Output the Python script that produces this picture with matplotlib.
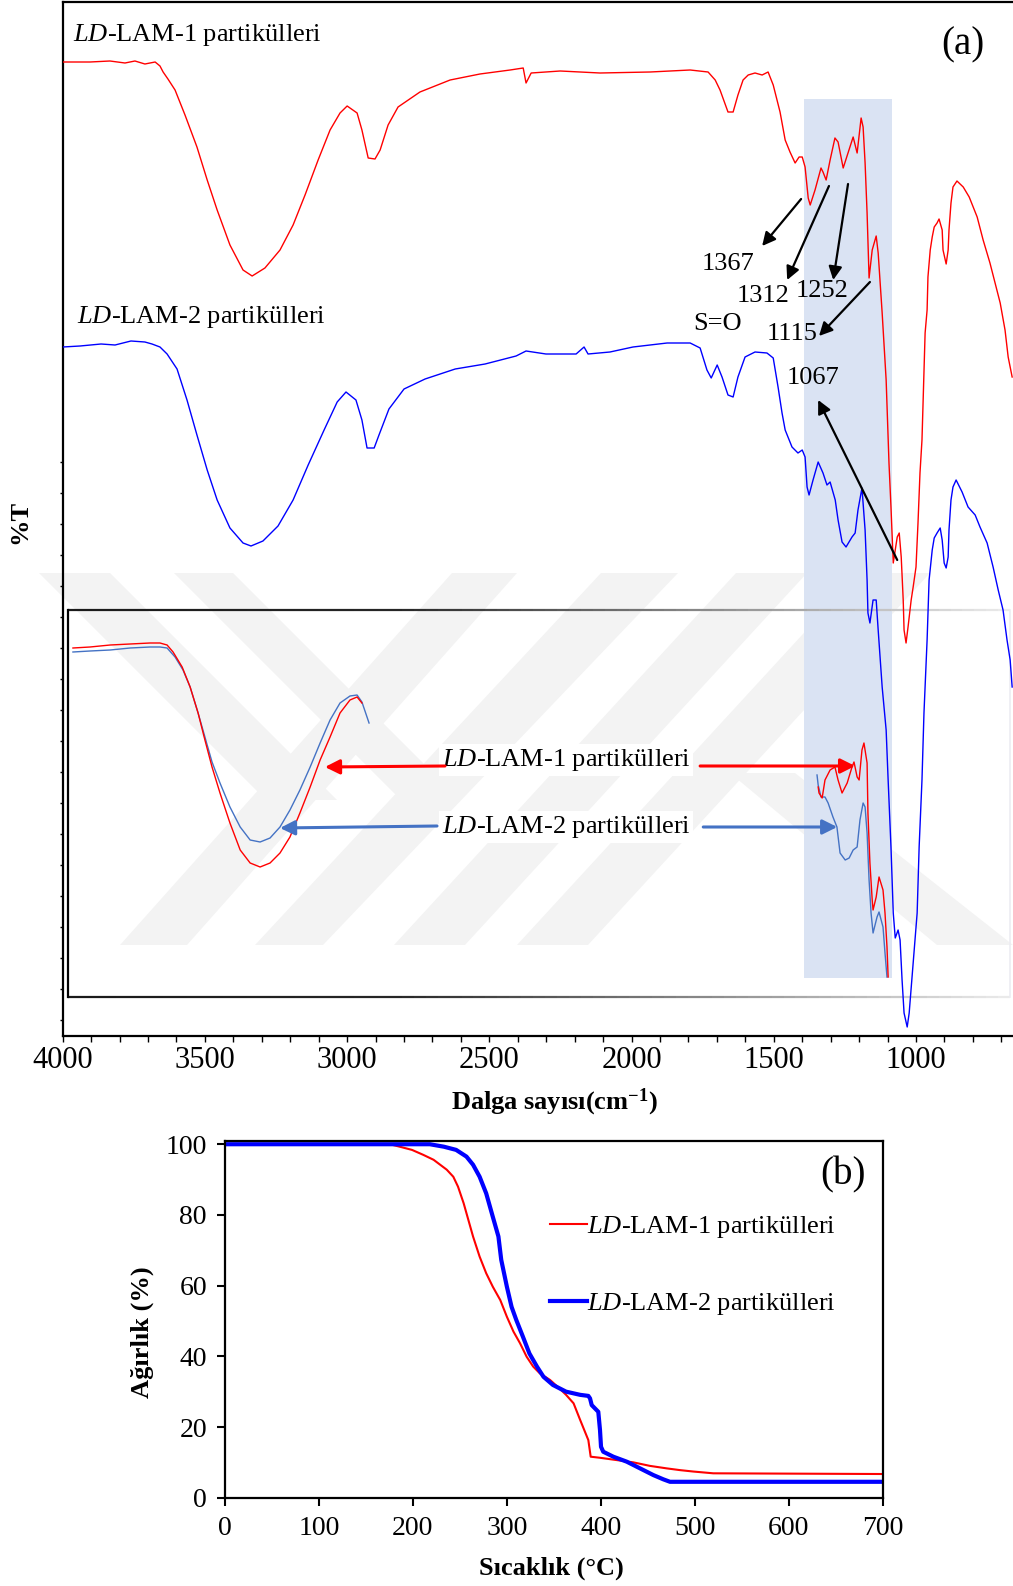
import matplotlib
matplotlib.use("Agg")
import matplotlib.pyplot as plt
import numpy as np
from matplotlib.patches import Polygon, Rectangle

plt.rcParams["font.family"] = ["Liberation Serif", "DejaVu Serif"]
plt.rcParams["mathtext.fontset"] = "custom"
plt.rcParams["mathtext.rm"] = "Liberation Serif"
plt.rcParams["mathtext.it"] = "Liberation Serif:italic"
plt.rcParams["mathtext.bf"] = "Liberation Serif:bold"

# --- (a) FTIR spektrumlari: dalga sayisi (cm-1) ve %T (keyfi birim) ---
lam1_wn = [4000, 3904, 3834, 3781, 3746, 3711, 3675, 3658, 3647, 3630, 3605, 3570, 3528,
           3492, 3457, 3412, 3366, 3334, 3289, 3236, 3190, 3148, 3102, 3060, 3025, 3000,
           2965, 2948, 2926, 2902, 2884, 2856, 2821, 2744, 2638, 2533, 2427, 2381, 2371,
           2353, 2304, 2251, 2111, 1935, 1794, 1731, 1706, 1689, 1661, 1643, 1626, 1608,
           1590, 1566, 1541, 1520, 1502, 1478, 1460, 1443, 1425, 1411, 1400, 1390, 1379,
           1372, 1355, 1334, 1327, 1316, 1302, 1285, 1274, 1256, 1239, 1221, 1214, 1207,
           1193, 1186, 1179, 1172, 1165, 1154, 1140, 1133, 1119, 1105, 1095, 1088, 1080,
           1066, 1059, 1052, 1045, 1042, 1035, 1028, 1017, 1010, 1000, 993, 986, 979, 975,
           968, 961, 958, 950, 943, 936, 926, 919, 908, 905, 894, 887, 884, 877, 870, 856,
           834, 813, 785, 764, 740, 722, 704, 687, 676, 662]
lam1_t = [97.4, 97.4, 97.5, 97.3, 97.5, 97.2, 97.4, 97.0, 96.4, 95.7, 94.6, 92.1, 88.9,
          85.6, 82.6, 79.1, 76.6, 76.0, 76.8, 78.6, 81.1, 84.1, 87.6, 90.6, 92.3, 93.0,
          92.3, 90.6, 87.8, 87.7, 88.6, 91.1, 92.9, 94.4, 95.6, 96.2, 96.6, 96.8, 95.3,
          96.3, 96.4, 96.5, 96.3, 96.4, 96.6, 96.4, 95.6, 94.6, 92.4, 92.4, 94.1, 95.6,
          96.1, 96.3, 96.1, 96.4, 95.1, 92.4, 89.6, 88.4, 87.3, 87.9, 87.9, 86.9, 83.8,
          83.1, 84.6, 86.8, 86.4, 85.6, 87.6, 89.8, 89.4, 86.8, 88.3, 89.9, 89.1, 88.3,
          91.8, 90.9, 87.3, 82.3, 75.8, 78.6, 80.0, 78.3, 72.3, 65.6, 57.3, 52.9, 47.3,
          49.9, 50.3, 47.9, 43.6, 40.6, 39.3, 40.9, 43.6, 44.9, 46.9, 51.3, 56.3, 59.6, 63.6,
          70.3, 72.6, 75.9, 78.6, 79.9, 80.9, 81.3, 81.7, 80.6, 78.6, 77.2, 78.6, 80.6, 83.3,
          84.9, 85.5, 84.9, 83.9, 81.9, 79.6, 77.3, 75.3, 73.3, 70.6, 67.9, 65.9]

lam2_wn = [4000, 3939, 3865, 3816, 3760, 3711, 3686, 3658, 3633, 3598, 3563, 3528, 3492,
           3457, 3412, 3366, 3338, 3296, 3243, 3190, 3137, 3081, 3035, 3004, 2969, 2948,
           2930, 2905, 2888, 2853, 2800, 2726, 2620, 2515, 2406, 2371, 2301, 2195, 2167,
           2153, 2076, 1995, 1875, 1794, 1759, 1735, 1720, 1699, 1682, 1661, 1643, 1626,
           1601, 1566, 1524, 1502, 1485, 1471, 1460, 1436, 1415, 1400, 1390, 1383, 1376,
           1362, 1344, 1327, 1313, 1302, 1284, 1274, 1260, 1246, 1225, 1214, 1204, 1190,
           1179, 1172, 1169, 1162, 1151, 1140, 1133, 1119, 1105, 1098, 1088, 1080, 1073,
           1063, 1056, 1049, 1042, 1031, 1024, 1010, 996, 989, 979, 972, 961, 954, 943, 936,
           926, 915, 908, 901, 894, 887, 884, 877, 870, 859, 838, 817, 792, 775, 750, 729,
           711, 694, 680, 669, 662]
lam2_t = [68.9, 69.0, 69.2, 69.1, 69.5, 69.4, 69.2, 68.9, 68.2, 66.7, 63.6, 60.1, 56.6,
          53.6, 50.8, 49.3, 49.0, 49.5, 51.0, 53.6, 57.1, 60.6, 63.4, 64.4, 63.6, 61.6,
          58.8, 58.8, 60.1, 62.7, 64.7, 65.7, 66.7, 67.2, 68.0, 68.5, 68.2, 68.2, 68.9,
          68.2, 68.4, 68.9, 69.3, 69.3, 68.8, 66.6, 65.8, 67.1, 65.9, 64.1, 63.9, 65.9,
          67.9, 68.4, 68.3, 67.8, 64.9, 62.3, 60.6, 58.9, 58.3, 58.6, 57.9, 54.9, 54.1,
          55.6, 57.4, 56.3, 55.1, 55.4, 53.6, 51.6, 49.4, 48.9, 49.9, 50.3, 52.6, 54.8,
          50.6, 45.6, 42.3, 41.3, 43.6, 43.6, 40.6, 34.9, 30.6, 25.6, 18.9, 12.3, 9.8,
          10.6, 9.6, 5.6, 2.3, 0.9, 2.3, 7.3, 12.3, 18.9, 25.6, 32.3, 39.6, 45.6, 48.6, 49.8,
          50.3, 50.8, 49.6, 47.3, 46.8, 47.9, 50.6, 53.6, 54.9, 55.6, 54.4, 52.9, 52.1, 50.9,
          49.3, 46.9, 44.6, 42.6, 39.6, 37.6, 34.9]

# buyutulmus bolge (kutu icindeki egriler)
ins_oh_wn = [3964, 3904, 3833, 3763, 3693, 3658, 3633, 3612, 3580, 3552, 3524, 3500, 3475,
             3447, 3412, 3376, 3341, 3306, 3271, 3236, 3201, 3166, 3130, 3095, 3060, 3025,
             2990, 2965, 2948]
ins1_oh_t = [38.8, 38.9, 39.1, 39.2, 39.3, 39.3, 39.1, 38.4, 36.9, 34.9, 32.3, 29.6, 26.9,
             24.3, 21.3, 18.6, 17.3, 16.9, 17.3, 18.3, 19.9, 22.3, 24.9, 27.6, 29.9, 32.3,
             33.6, 33.9, 33.3]
ins2_oh_wn = [3964, 3904, 3833, 3763, 3693, 3658, 3633, 3605, 3577, 3552, 3524, 3500, 3475,
              3447, 3412, 3376, 3341, 3306, 3271, 3236, 3201, 3166, 3130, 3095, 3060, 3025,
              2990, 2965, 2948, 2923]
ins2_oh_t = [38.4, 38.5, 38.6, 38.8, 38.9, 38.9, 38.8, 37.9, 36.6, 34.9, 32.3, 29.9, 27.4,
             25.3, 22.9, 20.9, 19.6, 19.4, 19.8, 20.9, 22.6, 24.6, 26.9, 29.3, 31.6, 33.3,
             34.0, 34.1, 33.4, 31.3]
ins1_fp_wn = [1344, 1341, 1330, 1320, 1302, 1285, 1274, 1260, 1242, 1225, 1218, 1207, 1200,
              1190, 1183, 1172, 1169, 1162, 1154, 1151, 1140, 1130, 1116, 1109, 1102, 1098]
ins1_fp_t = [24.9, 24.3, 23.8, 25.6, 26.6, 26.9, 25.6, 24.3, 25.3, 26.9, 27.4, 25.9, 25.6,
             28.6, 29.3, 27.3, 22.3, 17.3, 13.6, 12.6, 13.9, 15.9, 14.6, 12.3, 8.9, 5.9]
ins2_fp_wn = [1348, 1344, 1334, 1320, 1309, 1292, 1278, 1267, 1249, 1235, 1221, 1207, 1197,
              1186, 1179, 1172, 1165, 1158, 1151, 1137, 1130, 1116, 1109, 1102]
ins2_fp_t = [26.1, 25.1, 23.9, 23.9, 23.3, 21.9, 20.9, 18.3, 17.6, 17.8, 18.6, 18.9, 21.6,
             23.3, 22.9, 20.3, 15.6, 12.3, 10.3, 11.9, 12.4, 10.9, 8.3, 5.9]

# pik etiketleri: (metin, metin konumu, ok ucu, ok baslangici)
peak_labels = ["1367", "1312", "1252", "1115", "1067"]
peak_text_wn = [1660, 1538, 1330, 1436, 1362]
peak_text_t = [77.2, 74.0, 74.5, 70.2, 65.8]
peak_tail_wn = [1404, 1306, 1239, 1162, 1066]
peak_tail_t = [83.7, 85.0, 85.2, 75.4, 47.6]
peak_head_wn = [1541, 1453, 1291, 1341, 1344]
peak_head_t = [79.0, 75.6, 75.6, 70.0, 63.6]
band_region = (1393, 1084)  # vurgulanan S=O bolgesi

# --- (b) TGA ---
tga1_temp = [0, 175.5, 186, 199, 211, 222, 236, 243, 248, 254, 259, 264, 271, 278, 285, 293,
             300, 307, 314, 321, 328, 335, 346, 356, 363, 371, 378, 386.7, 389.2, 399, 409.8,
             434.6, 452.3, 470, 484.3, 498.5, 519.7, 700]
tga1_w = [100, 100, 99.3, 98.4, 97, 95.6, 92.8, 90.8, 88, 83.3, 78.6, 73.9, 68.2, 63.5, 59.7,
          55.9, 51.2, 47, 43.7, 39.9, 37.1, 35.2, 33.3, 30.9, 29.1, 26.7, 22, 16.3, 11.6, 11.3,
          10.9, 10, 9, 8.3, 7.8, 7.4, 6.9, 6.7]
tga2_temp = [0, 218, 233, 246, 257, 264, 271, 278, 285, 291, 294, 300, 305, 310, 317, 324,
             332, 339, 349, 363, 378, 386.7, 388.5, 390.3, 397.3, 399.1, 400.2, 402.6, 413.3,
             427.5, 441.7, 455.9, 466.5, 473.6, 700]
tga2_w = [100, 100, 99.3, 98.4, 96.5, 94.2, 90.8, 86.1, 79.5, 73.9, 67.3, 59.7, 54, 50.3,
          45.6, 40.8, 37.1, 34.2, 31.9, 30, 29.1, 28.8, 28.1, 26.2, 24.3, 19.2, 14.4, 13, 11.6,
          10.2, 8.3, 6.4, 5.2, 4.5, 4.5]

lab1 = r"$\mathit{LD}$-LAM-1 partikülleri"
lab2 = r"$\mathit{LD}$-LAM-2 partikülleri"

W, H = 1013, 1586
fig = plt.figure(figsize=(W / 100, H / 100), dpi=100)


def px(x, y):
    return (x / W, 1 - y / H)


# arka plandaki soluk filigran seritleri
bands = [
    [(120, 945), (187, 945), (517, 573), (452, 573)],
    [(255, 945), (323, 945), (678, 573), (601, 573)],
    [(394, 945), (465, 945), (807, 573), (736, 573)],
    [(517, 945), (588, 945), (930, 573), (859, 573)],
    [(39, 573), (110, 573), (337, 800), (266, 800)],
    [(174, 573), (233, 573), (454, 794), (395, 794)],
    [(730, 773), (795, 773), (1013, 945), (937, 945)],
]
for b in bands:
    fig.patches.append(Polygon([px(*p) for p in b], closed=True, transform=fig.transFigure,
                               facecolor="#f3f3f3", edgecolor="none", zorder=-5))

ax1 = fig.add_axes([62.7 / W, 1 - 1036 / H, (W - 62.7) / W, 1034 / H])
ax1.set_facecolor("none")
ax1.set_xlim(4000, 659)
ax1.set_ylim(0, 103.4)

ax1.add_patch(Rectangle((band_region[1], 5.8), band_region[0] - band_region[1], 87.9,
                        facecolor="#dae3f3", edgecolor="none", zorder=1))

ax1.plot(lam1_wn, lam1_t, color="#ff0000", lw=1.0, zorder=3)
ax1.plot(lam2_wn, lam2_t, color="#0000ff", lw=1.0, zorder=3)
ax1.plot(ins_oh_wn, ins1_oh_t, color="#ff0000", lw=1.0, zorder=4)
ax1.plot(ins2_oh_wn, ins2_oh_t, color="#4472c4", lw=1.0, zorder=3)
ax1.plot(ins1_fp_wn, ins1_fp_t, color="#ff0000", lw=1.0, zorder=4)
ax1.plot(ins2_fp_wn, ins2_fp_t, color="#4472c4", lw=1.0, zorder=3)

# buyutme kutusu (sola koyu, saga dogru solan cerceve)
xs = np.linspace(0.0056, 0.997, 80)
for i in range(len(xs) - 1):
    xm = (xs[i] + xs[i + 1]) / 2
    g = np.interp(xm, [0.0, 0.35, 0.85, 1.0], [0.1, 0.15, 0.75, 0.93])
    for yy in (0.412, 0.0377):
        ax1.plot([xs[i], xs[i + 1]], [yy, yy], transform=ax1.transAxes,
                 color=(g, g, g), lw=1.6, solid_capstyle="butt", zorder=2)
ax1.plot([0.0056, 0.0056], [0.0377, 0.412], transform=ax1.transAxes, color="k", lw=1.6, zorder=2)
ax1.plot([0.997, 0.997], [0.0377, 0.412], transform=ax1.transAxes, color="#ececf2", lw=1.2, zorder=2)

ax1.text(3964, 100.1, lab1, fontsize=19, va="center", ha="left")
ax1.text(3949, 71.9, lab2, fontsize=19, va="center", ha="left")
ax1.text(834, 99.1, "(a)", fontsize=28, va="center", ha="center")
ax1.text(1696, 71.2, "S=O", fontsize=19, va="center", ha="center")

for lab, tx, ty, hx, hy, sx, sy in zip(peak_labels, peak_text_wn, peak_text_t,
                                       peak_head_wn, peak_head_t, peak_tail_wn, peak_tail_t):
    ax1.text(tx, ty, lab, fontsize=19, va="center", ha="center", zorder=5)
    ax1.annotate("", xy=(hx, hy), xytext=(sx, sy),
                 arrowprops=dict(arrowstyle="-|>", color="k", lw=1.6,
                                 mutation_scale=20, shrinkA=0, shrinkB=0), zorder=5)

# kutu icindeki etiketler ve oklar
box = dict(facecolor="white", edgecolor="none", pad=2)
ax1.text(2230, 27.6, lab1, fontsize=19, va="center", ha="center", bbox=box, zorder=6)
ax1.text(2230, 20.9, lab2, fontsize=19, va="center", ha="center", bbox=box, zorder=6)
arrow_sets = [((3078, 26.9), (2656, 27.0), "#ff0000"), ((1214, 27.0), (1759, 27.0), "#ff0000"),
              ((3236, 20.8), (2684, 21.0), "#4472c4"), ((1277, 20.9), (1748, 20.9), "#4472c4")]
for head, tail, c in arrow_sets:
    ax1.annotate("", xy=head, xytext=tail,
                 arrowprops=dict(arrowstyle="-|>", color=c, lw=2.2,
                                 mutation_scale=22, shrinkA=0, shrinkB=0), zorder=6)

ax1.spines["right"].set_visible(False)
for s in ("left", "bottom", "top"):
    ax1.spines[s].set_linewidth(1.6)
ax1.set_xticks(np.arange(4000, 600, -500))
ax1.set_xticks(np.arange(4000, 600, -100), minor=True)
ax1.set_yticks(1.6 + 3.1 * np.arange(19))
ax1.set_yticklabels([])
ax1.tick_params(axis="x", which="both", direction="out", length=4, width=1, labelsize=22, pad=3)
ax1.tick_params(axis="y", direction="out", length=2.5, width=1)
ax1.set_xlabel(r"Dalga sayısı(cm$^{\mathbf{-1}}$)", fontsize=19, fontweight="bold")
ax1.xaxis.set_label_coords(0.517, -0.049)
ax1.set_ylabel("%T", fontsize=19, fontweight="bold")
ax1.yaxis.set_label_coords(-0.045, 0.497)
ax1.yaxis.label.set_va("center")

# --- (b) ---
ax2 = fig.add_axes([225 / W, 1 - 1497.7 / H, 657.7 / W, 357 / H])
ax2.plot(tga1_temp, tga1_w, color="#ff0000", lw=1.5, label=lab1)
ax2.plot(tga2_temp, tga2_w, color="#0000ff", lw=3.0, label=lab2)
ax2.set_xlim(0, 700)
ax2.set_ylim(0, 101)
ax2.set_xticks(np.arange(0, 701, 100))
ax2.set_yticks(np.arange(0, 101, 20))
for s in ax2.spines.values():
    s.set_linewidth(1.6)
ax2.tick_params(direction="out", length=6, width=1.5, labelsize=20, pad=7)
ax2.set_xlabel("Sıcaklık (°C)", fontsize=19, fontweight="bold")
ax2.xaxis.set_label_coords(0.496, -0.197)
ax2.xaxis.label.set_va("center")
ax2.set_ylabel("Ağırlık (%)", fontsize=19, fontweight="bold")
ax2.yaxis.set_label_coords(-0.125, 0.464)
ax2.yaxis.label.set_va("center")
ax2.text(0.94, 0.905, "(b)", transform=ax2.transAxes, fontsize=28, ha="center", va="center")
ax2.legend(loc="upper left", bbox_to_anchor=(0.494, 0.795), frameon=False, fontsize=19,
           handlelength=1.4, handletextpad=0.0, labelspacing=1.95, borderpad=0, borderaxespad=0)

fig.savefig("out.png", dpi=100)
